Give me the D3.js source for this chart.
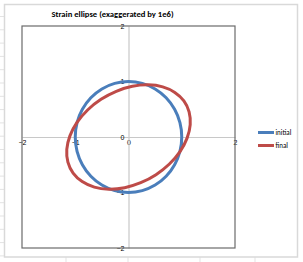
<!DOCTYPE html>
<html>
<head>
<meta charset="utf-8">
<script src="https://cdn.jsdelivr.net/npm/d3@7"></script>
<style>
  body { margin: 0; background: #fff; }
  svg { display: block; font-family: Calibri, Carlito, "Liberation Sans", Arial, sans-serif; }
</style>
</head>
<body>
<svg id="chart" width="303" height="262"></svg>
<script>
// --- data ---
const xTicks = [-2, -1, 0, 1, 2];
const yTicks = [-2, -1, 0, 1, 2];

const initialX = [1, 0.966, 0.866, 0.707, 0.5, 0.259, 0, -0.259, -0.5, -0.707, -0.866, -0.966,
                  -1, -0.966, -0.866, -0.707, -0.5, -0.259, 0, 0.259, 0.5, 0.707, 0.866, 0.966];
const initialY = [0, 0.259, 0.5, 0.707, 0.866, 0.966, 1, 0.966, 0.866, 0.707, 0.5, 0.259,
                  0, -0.259, -0.5, -0.707, -0.866, -0.966, -1, -0.966, -0.866, -0.707, -0.5, -0.259];

const finalX = [1.1, 1.159, 1.138, 1.04, 0.87, 0.642, 0.37, 0.072, -0.23, -0.516, -0.768, -0.967,
                -1.1, -1.159, -1.138, -1.04, -0.87, -0.642, -0.37, -0.072, 0.23, 0.516, 0.768, 0.967];
const finalY = [-0.02, 0.224, 0.453, 0.651, 0.804, 0.903, 0.94, 0.913, 0.824, 0.679, 0.487, 0.262,
                0.02, -0.224, -0.453, -0.651, -0.804, -0.903, -0.94, -0.913, -0.824, -0.679, -0.487, -0.262];

const seriesNames = ["initial", "final"];
const seriesColors = ["#4a7ebb", "#be4b48"];

// --- drawing ---
const svg = d3.select("#chart");

// sheet gridlines peeking out behind the chart
const sheetRows = d3.range(16.5, 257, 13.3);
svg.selectAll(".row-tick").data(sheetRows).enter().append("line")
    .attr("x1", 0).attr("x2", 4).attr("y1", d => d).attr("y2", d => d)
    .style("stroke", "#e3e3e3").style("stroke-width", 1);
const sheetCols = [66, 128, 200, 255];
svg.selectAll(".col-tick").data(sheetCols).enter().append("line")
    .attr("x1", d => d).attr("x2", d => d).attr("y1", 257).attr("y2", 262)
    .style("stroke", "#e3e3e3").style("stroke-width", 1);

// chart area
svg.append("rect")
    .attr("x", 4.5).attr("y", 4.5).attr("width", 293).attr("height", 252.5)
    .style("fill", "#fff").style("stroke", "#d9d9d9").style("stroke-width", 1.5);

const plot = { left: 22, right: 235, top: 26, bottom: 248 };
const x = d3.scaleLinear().domain([-2, 2]).range([plot.left, plot.right]);
const y = d3.scaleLinear().domain([-2, 2]).range([plot.bottom, plot.top]);

// title
svg.append("text")
    .attr("x", 112.5).attr("y", 16.5)
    .attr("text-anchor", "middle")
    .style("font-size", "8.6px").style("font-weight", "bold").style("fill", "#000")
    .text("Strain ellipse (exaggerated by 1e6)");

// axes through origin
const xAxis = svg.append("g").attr("transform", `translate(0,${y(0)})`)
    .call(d3.axisBottom(x).tickValues(xTicks).tickSize(0).tickPadding(3).tickFormat(d3.format("d")));
xAxis.select(".domain").style("stroke", "#c8c8c8").style("stroke-width", 1.2);
xAxis.selectAll("text").style("font-size", "7px").style("fill", "#000")
    .attr("font-family", null);

const yAxis = svg.append("g").attr("transform", `translate(${x(0)},0)`)
    .call(d3.axisLeft(y).tickValues(yTicks).tickSize(0).tickPadding(4).tickFormat(d3.format("d")));
yAxis.select(".domain").style("stroke", "#c8c8c8").style("stroke-width", 1.2);
yAxis.selectAll("text").style("font-size", "7px").style("fill", "#000")
    .attr("font-family", null);

// plot frame
svg.append("rect")
    .attr("x", plot.left).attr("y", plot.top)
    .attr("width", plot.right - plot.left).attr("height", plot.bottom - plot.top)
    .style("fill", "none").style("stroke", "#6b6b6b").style("stroke-width", 1.2);

// curves
const line = d3.line().x(d => x(d[0])).y(d => y(d[1])).curve(d3.curveCatmullRomClosed);
const series = [
    d3.zip(initialX, initialY),
    d3.zip(finalX, finalY)
];
svg.selectAll(".curve").data(series).enter().append("path")
    .attr("class", "curve")
    .attr("d", d => line(d))
    .style("fill", "none")
    .style("stroke", (d, i) => seriesColors[i])
    .style("stroke-width", 3);

// legend
const legend = svg.selectAll(".legend").data(seriesNames).enter().append("g")
    .attr("transform", (d, i) => `translate(258,${132.5 + i * 13})`);
legend.append("line")
    .attr("x1", 0).attr("x2", 16).attr("y1", 0).attr("y2", 0)
    .style("stroke", (d, i) => seriesColors[i]).style("stroke-width", 3);
legend.append("text")
    .attr("x", 17.5).attr("y", 2.5)
    .style("font-size", "7px").style("fill", "#000")
    .text(d => d);
</script>
</body>
</html>
